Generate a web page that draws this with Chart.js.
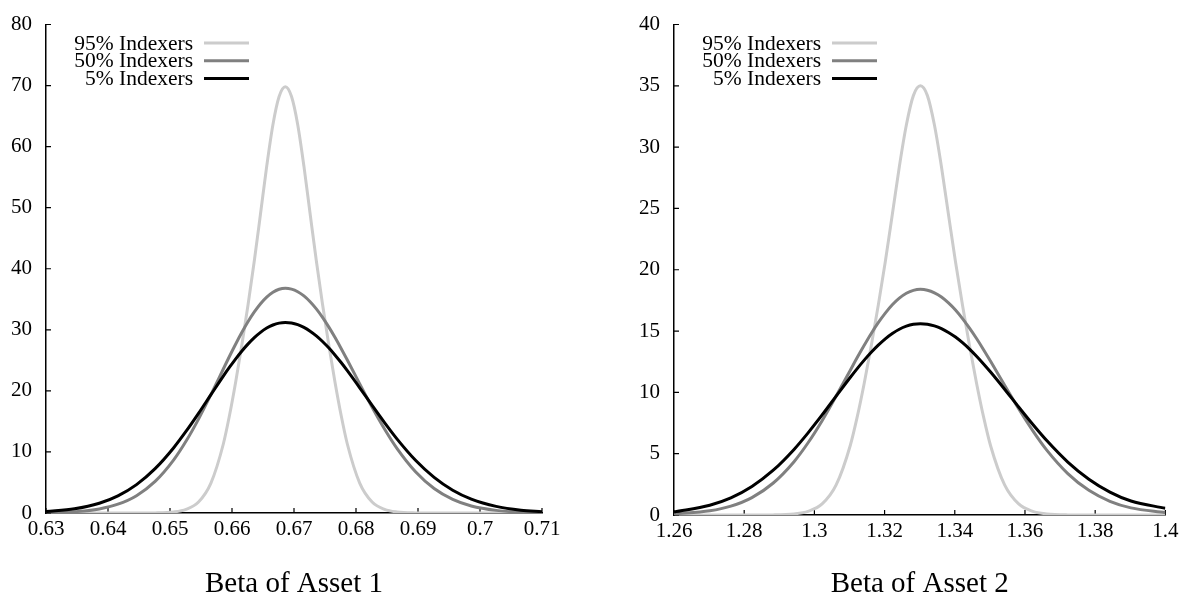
<!DOCTYPE html>
<html>
<head>
<meta charset="utf-8">
<script src="https://cdn.jsdelivr.net/npm/chart.js@4.4.1/dist/chart.umd.min.js"></script>
<style>
  html, body { margin: 0; padding: 0; background: #fff; }
  #wrap { position: relative; width: 1184px; height: 596px; }
  canvas { position: absolute; top: 0; }
</style>
</head>
<body>
<div id="wrap">
  <canvas id="asset1" width="592" height="596" style="left:0"></canvas>
  <canvas id="asset2" width="592" height="596" style="left:592px"></canvas>
</div>
<script>
// legend order, top to bottom
const seriesNames = ['95% Indexers', '50% Indexers', '5% Indexers'];
const seriesColors = ['#cccccc', '#808080', '#000000'];

// --- Asset 1 ---
const beta1 = [0.63, 0.6346, 0.6386, 0.6416, 0.6446, 0.6476, 0.6506, 0.6526, 0.6546, 0.6566,
  0.6586, 0.6596, 0.6606, 0.6616, 0.6626, 0.6636, 0.6646, 0.6656, 0.6666, 0.6676,
  0.6686, 0.6696, 0.6706, 0.6716, 0.6726, 0.6736, 0.6746, 0.6756, 0.6766, 0.6776,
  0.6786, 0.6806, 0.6826, 0.6846, 0.6866, 0.6896, 0.6926, 0.6956, 0.6986, 0.7026, 0.7066, 0.71];
const idx95_a1 = [0, 0, 0, 0, 0, 0.02, 0.17, 0.6, 1.8, 4.9,
  11.3, 16.0, 21.5, 27.6, 34.2, 41.3, 49.0, 56.8, 63.6, 68.2,
  69.8, 68.2, 63.6, 56.8, 49.0, 41.3, 34.2, 27.6, 21.5, 16.0,
  11.3, 4.9, 1.8, 0.6, 0.17, 0.02, 0, 0, 0, 0, 0, 0];
const idx50_a1 = [0.05, 0.21, 0.67, 1.44, 2.84, 5.17, 8.70, 11.78, 15.38, 19.39,
  23.58, 25.67, 27.68, 29.59, 31.36, 32.92, 34.27, 35.35, 36.15, 36.64,
  36.8, 36.66, 36.24, 35.55, 34.60, 33.43, 32.04, 30.48, 28.77, 26.95,
  25.05, 21.15, 17.31, 13.75, 10.58, 6.75, 4.01, 2.23, 1.15, 0.43, 0.14, 0.05];
const idx5_a1 = [0.23, 0.68, 1.59, 2.80, 4.65, 7.26, 10.69, 13.39, 16.32, 19.38,
  22.42, 23.87, 25.25, 26.54, 27.70, 28.73, 29.59, 30.29, 30.79, 31.10,
  31.2, 31.11, 30.84, 30.39, 29.78, 29.01, 28.09, 27.05, 25.89, 24.64,
  23.31, 20.51, 17.62, 14.80, 12.14, 8.63, 5.83, 3.73, 2.27, 1.08, 0.46, 0.21];

// --- Asset 2 ---
const beta2 = [1.26, 1.2702, 1.2762, 1.2822, 1.2882, 1.2942, 1.2982, 1.3022, 1.3062, 1.3102,
  1.3122, 1.3142, 1.3162, 1.3182, 1.3202, 1.3222, 1.3242, 1.3262, 1.3282,
  1.3302, 1.3322, 1.3342, 1.3362, 1.3382, 1.3402, 1.3422, 1.3442, 1.3462, 1.3482,
  1.3502, 1.3542, 1.3582, 1.3622, 1.3662, 1.3722, 1.3782, 1.3842, 1.3902, 1.40];
const idx95_a2 = [0, 0, 0, 0, 0.01, 0.09, 0.3, 0.9, 2.45, 5.65,
  8.0, 10.75, 13.8, 17.1, 20.65, 24.5, 28.4, 31.8, 34.2,
  35.0, 34.2, 31.8, 28.4, 24.5, 20.65, 17.1, 13.8, 10.75, 8.0,
  5.65, 2.45, 0.9, 0.3, 0.09, 0.01, 0, 0, 0, 0];
const idx50_a2 = [0.09, 0.34, 0.72, 1.42, 2.59, 4.35, 5.89, 7.69, 9.70, 11.79,
  12.84, 13.84, 14.80, 15.68, 16.46, 17.14, 17.68, 18.08, 18.32,
  18.4, 18.33, 18.12, 17.78, 17.30, 16.72, 16.02, 15.24, 14.39, 13.48,
  12.53, 10.58, 8.66, 6.88, 5.29, 3.38, 2.01, 1.12, 0.58, 0.19];
const idx5_a2 = [0.25, 0.80, 1.40, 2.33, 3.63, 5.35, 6.70, 8.16, 9.69, 11.21,
  11.94, 12.63, 13.27, 13.85, 14.37, 14.80, 15.15, 15.40, 15.55,
  15.6, 15.56, 15.42, 15.20, 14.89, 14.51, 14.05, 13.53, 12.95, 12.32,
  11.66, 10.26, 8.81, 7.40, 6.07, 4.32, 2.92, 1.87, 1.14, 0.55];

const serif = '"Liberation Serif", "Times New Roman", serif';

// small ticks pointing into the plot, left and bottom only
const innerTicks = {
  id: 'innerTicks',
  beforeDatasetsDraw(chart) {
    const {ctx, chartArea, scales} = chart;
    ctx.save();
    ctx.strokeStyle = '#000';
    ctx.lineWidth = 1.2;
    ctx.beginPath();
    scales.x.ticks.forEach(t => {
      const px = scales.x.getPixelForValue(t.value);
      ctx.moveTo(px, chartArea.bottom);
      ctx.lineTo(px, chartArea.bottom - 5);
    });
    scales.y.ticks.forEach(t => {
      const py = scales.y.getPixelForValue(t.value);
      ctx.moveTo(chartArea.left, py);
      ctx.lineTo(chartArea.left + 5, py);
    });
    ctx.stroke();
    ctx.restore();
  }
};

// gnuplot style key: text right aligned, line sample after it
const lineKey = {
  id: 'lineKey',
  afterDraw(chart) {
    const {ctx, chartArea} = chart;
    ctx.save();
    ctx.font = '21.5px ' + serif;
    ctx.textAlign = 'right';
    ctx.textBaseline = 'middle';
    seriesNames.forEach((name, i) => {
      const ds = chart.data.datasets.find(d => d.label === name);
      const y = chartArea.top + 18.5 + i * 17.7;
      ctx.fillStyle = '#000';
      ctx.fillText(name, chartArea.left + 147, y + 1);
      ctx.strokeStyle = ds.borderColor;
      ctx.lineWidth = 3;
      ctx.beginPath();
      ctx.moveTo(chartArea.left + 158, y);
      ctx.lineTo(chartArea.left + 203, y);
      ctx.stroke();
    });
    ctx.restore();
  }
};

function makeSet(label, xs, ys, color, order) {
  return {
    label: label,
    data: xs.map((x, i) => ({x: x, y: ys[i]})),
    borderColor: color,
    borderWidth: 3,
    pointRadius: 0,
    fill: false,
    cubicInterpolationMode: 'monotone',
    order: order
  };
}

function drawPanel(id, cfg) {
  new Chart(document.getElementById(id).getContext('2d'), {
    type: 'line',
    data: {
      datasets: [
        makeSet(seriesNames[0], cfg.xs, cfg.s95, seriesColors[0], 2),
        makeSet(seriesNames[1], cfg.xs, cfg.s50, seriesColors[1], 1),
        makeSet(seriesNames[2], cfg.xs, cfg.s5, seriesColors[2], 0)
      ]
    },
    options: {
      responsive: false,
      animation: false,
      devicePixelRatio: 1,
      layout: { padding: { left: 0, top: cfg.padTop, right: cfg.padRight, bottom: 0 } },
      plugins: { legend: { display: false }, tooltip: { enabled: false } },
      scales: {
        x: {
          type: 'linear',
          min: cfg.xMin, max: cfg.xMax,
          grid: { display: false, drawTicks: false },
          border: { display: true, color: '#000', width: 1.5 },
          ticks: {
            stepSize: cfg.xStep,
            autoSkip: false,
            maxRotation: 0,
            padding: 5.5,
            color: '#000',
            font: { family: serif, size: 21, lineHeight: 1 },
            callback: v => String(Number(v.toFixed(2)))
          },
          title: {
            display: true,
            text: cfg.title,
            color: '#000',
            font: { family: serif, size: 29, lineHeight: 1 },
            padding: { top: 0, bottom: -3 }
          },
          afterFit: s => { s.height = cfg.xAxisH; }
        },
        y: {
          min: 0, max: cfg.yMax,
          grid: { display: false, drawTicks: false },
          border: { display: true, color: '#000', width: 1.5 },
          ticks: {
            stepSize: cfg.yStep,
            padding: 14,
            color: '#000',
            font: { family: serif, size: 21, lineHeight: 1 }
          },
          afterFit: s => { s.width = cfg.yAxisW; }
        }
      }
    },
    plugins: [innerTicks, lineKey]
  });
}

drawPanel('asset1', {
  xs: beta1, s95: idx95_a1, s50: idx50_a1, s5: idx5_a1,
  xMin: 0.63, xMax: 0.71, xStep: 0.01, yMax: 80, yStep: 10,
  title: 'Beta of Asset 1',
  padTop: 15, padRight: 50, xAxisH: 83, yAxisW: 46
});

drawPanel('asset2', {
  xs: beta2, s95: idx95_a2, s50: idx50_a2, s5: idx5_a2,
  xMin: 1.26, xMax: 1.40, xStep: 0.02, yMax: 40, yStep: 5,
  title: 'Beta of Asset 2',
  padTop: 22, padRight: 18, xAxisH: 81, yAxisW: 82
});
</script>
</body>
</html>
